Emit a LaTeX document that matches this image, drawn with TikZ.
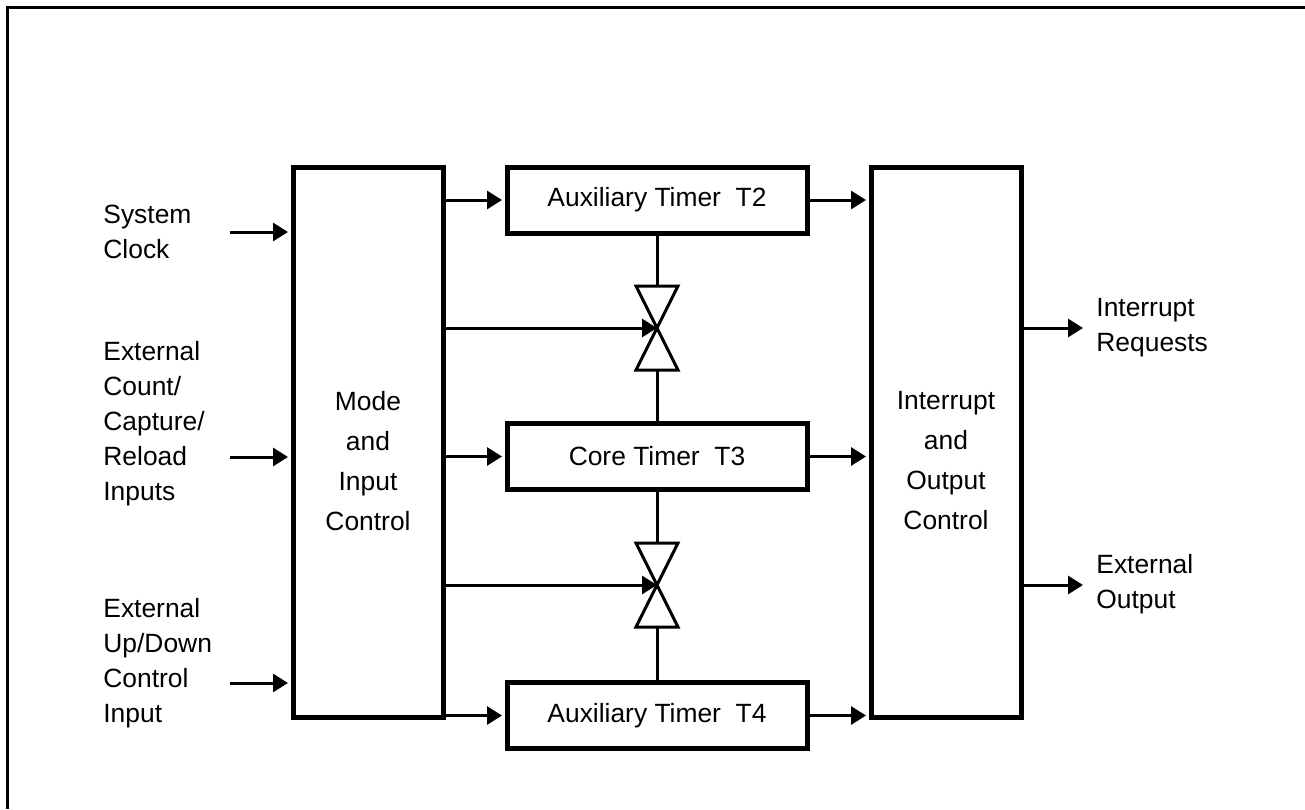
\documentclass[tikz,border=0pt]{standalone}
\usepackage{fontspec}
\setmainfont{Liberation Sans}
\usepackage{tikz}
\usetikzlibrary{arrows.meta}
\usetikzlibrary{calc}

\tikzset{
	bigblock/.style={draw,line width=2.5pt,minimum width=75pt,minimum height=275pt,inner sep=0pt},
	timerblock/.style={draw,line width=2.5pt,minimum width=150pt,minimum height=33pt,inner sep=0pt,fill=white,font=\fontsize{13.2}{15}\selectfont},
	boxtext/.style={align=center,inner sep=0pt,font=\fontsize{13.2}{20}\selectfont},
	sidetext/.style={align=left,anchor=west,inner sep=0pt,font=\fontsize{13.2}{17.5}\selectfont},
	sig/.style={line width=1.5pt,-{Triangle[length=7.5pt,width=9pt]}},
	tobox/.style={sig,shorten >=1.25pt},
	wire/.style={line width=1.5pt},
	valvetri/.style={line width=1.5pt,fill=white,line join=miter}
}

\begin{document}
\begin{tikzpicture}[x=0.5pt,y=-0.5pt]
		
		\useasboundingbox (0,0) rectangle (1305,809);
		% frame (top and left only)
		\draw[line width=1.5pt] (7.5,809) -- (7.5,7.5) -- (1305,7.5);
		
		% Main blocks
		\node[bigblock] (mode) at (368,442) {};
		\node[boxtext] (modetxt) at (368,461) {Mode\\and\\Input\\Control};
		\node[bigblock] (ioc) at (946,442) {};
		\node[boxtext] (ioctxt) at (946,461) {Interrupt\\and\\Output\\Control};
		
		% Timers
		\node[timerblock] (t2) at (657,200) {Auxiliary Timer\ \ T2};
		\node[timerblock] (t3) at (657,456.5) {Core Timer\ \ T3};
		\node[timerblock] (t4) at (657,715.5) {Auxiliary Timer\ \ T4};
		
		% Couplings between the timers
		\coordinate (v1) at (657,328);
		\coordinate (v2) at (657,585);
		\foreach \v in {v1,v2} {
			\draw[valvetri] (\v) -- ++(-21,-42) -- ++(42,0) -- cycle;
			\draw[valvetri] (\v) -- ++(-21,42) -- ++(42,0) -- cycle;
		}
		\draw[wire] (t2.south) -- ($(v1)+(0,-42)$);
		\draw[wire] ($(v1)+(0,42)$) -- (t3.north);
		\draw[wire] (t3.south) -- ($(v2)+(0,-42)$);
		\draw[wire] ($(v2)+(0,42)$) -- (t4.north);
		
		% Mode control -> timers and couplings
		\draw[tobox] (mode.east |- t2.west) -- (t2.west);
		\draw[sig] (mode.east |- v1) -- (v1);
		\draw[tobox] (mode.east |- t3.west) -- (t3.west);
		\draw[sig] (mode.east |- v2) -- (v2);
		\draw[tobox] (mode.east |- t4.west) -- (t4.west);
		
		% Timers -> interrupt and output control
		\draw[tobox] (t2.east) -- (ioc.west |- t2.east);
		\draw[tobox] (t3.east) -- (ioc.west |- t3.east);
		\draw[tobox] (t4.east) -- (ioc.west |- t4.east);
		
		% Inputs
		\node[sidetext] (clk) at (103,232) {System\\Clock};
		\node[sidetext] (extcnt) at (103,424) {External\\Count/\\Capture/\\Reload\\Inputs};
		\node[sidetext] (updown) at (103,663) {External\\Up/Down\\Control\\Input};
		\coordinate (clkin) at (230,232);
		\coordinate (cntin) at (230,457);
		\coordinate (udin) at (230,683);
		\draw[tobox] (clkin) -- (mode.west |- clkin);
		\draw[tobox] (cntin) -- (mode.west |- cntin);
		\draw[tobox] (udin) -- (mode.west |- udin);
		
		% Outputs
		\coordinate (irqout) at (1083,328);
		\coordinate (extout) at (1083,585);
		\draw[sig] (ioc.east |- irqout) -- (irqout);
		\draw[sig] (ioc.east |- extout) -- (extout);
		\node[sidetext] (irq) at (1096,328) {Interrupt\\Requests};
		\node[sidetext] (ext) at (1096,584) {External\\Output};
		
	\end{tikzpicture}
\end{document}
